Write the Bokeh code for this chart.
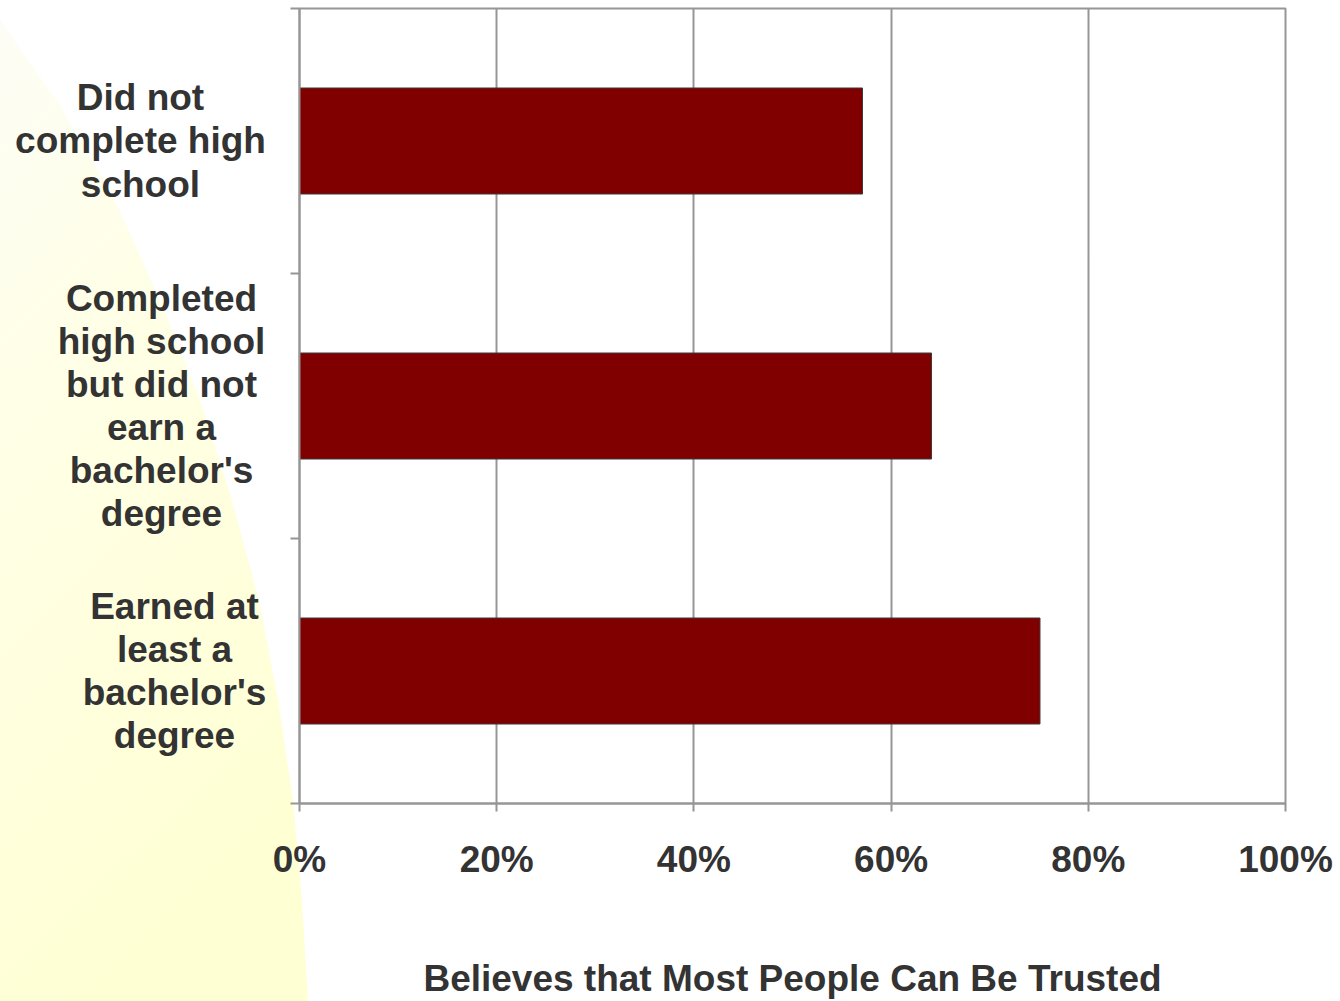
from bokeh.plotting import figure
from bokeh.layouts import row
from bokeh.models import Range1d, FixedTicker, NumeralTickFormatter
from bokeh.core.properties import value
from bokeh.embed import file_html
from bokeh.resources import INLINE

# ---- data ----
categories = [
    "Did not\ncomplete high\nschool",
    "Completed\nhigh school\nbut did not\nearn a\nbachelor's\ndegree",
    "Earned at\nleast a\nbachelor's\ndegree",
]
trust_share = [0.571, 0.641, 0.751]
x_ticks = [0.0, 0.2, 0.4, 0.6, 0.8, 1.0]
x_title = "Believes that Most People Can Be Trusted"

# ---- style ----
FONT = "Liberation Sans"
TEXT = "#333333"
GRID = "#969696"
W, H = 1340, 1001
LABEL_W = 270          # width of the category-label panel
PLOT_LEFT = 299        # page x of the plot frame's left edge
TOP, BOTTOM = 8, 198
# horizontal centre (px) of each centre-aligned category label block
label_centres = [140, 161, 174]

positions = [i + 0.5 for i in range(len(categories))]
y_range = Range1d(len(categories), 0)

svg_bg = (
    "<svg xmlns='http://www.w3.org/2000/svg' width='1340' height='1001'>"
    "<defs><linearGradient id='g' x1='0' y1='0' x2='0.3' y2='1'>"
    "<stop offset='0' stop-color='%23fdfdf6'/>"
    "<stop offset='0.35' stop-color='%23ffffe8'/>"
    "<stop offset='1' stop-color='%23ffffd4'/>"
    "</linearGradient></defs>"
    "<path d='M0,20 L60,105 L115,200 L160,300 L200,400 L232,500 L259,600 "
    "L278,700 L293,800 L302,900 L308,1001 L0,1001 Z' fill='url(%23g)'/></svg>"
)

# ---- category label panel ----
lab = figure(
    width=LABEL_W, height=H, x_range=Range1d(0, LABEL_W), y_range=y_range,
    output_backend="svg", toolbar_location=None, tools="",
    x_axis_location=None, y_axis_location=None,
    min_border_left=0, min_border_right=0, min_border_top=TOP, min_border_bottom=BOTTOM,
)
lab.border_fill_color = None
lab.background_fill_color = None
lab.outline_line_color = None
lab.grid.visible = False
lab.text(x=label_centres, y=positions, text=categories,
         text_align="center", text_baseline="middle",
         text_font=value(FONT), text_font_style="bold", text_font_size="37px",
         text_color=TEXT, text_line_height=1.05)

# ---- bar chart ----
p = figure(
    width=W - LABEL_W, height=H,
    x_range=Range1d(0, 1), y_range=y_range,
    output_backend="svg", toolbar_location=None, tools="",
    min_border_left=PLOT_LEFT - LABEL_W, min_border_right=55,
    min_border_top=TOP, min_border_bottom=BOTTOM,
)
p.border_fill_color = None
p.background_fill_color = "white"
p.outline_line_color = GRID
p.outline_line_width = 2

p.hbar(y=positions, right=trust_share, left=0, height=0.4,
       fill_color="#800000", line_color="#3a3a3a", line_width=1)

# x axis
xa = p.xaxis[0]
xa.ticker = FixedTicker(ticks=x_ticks)
xa.formatter = NumeralTickFormatter(format="0%")
xa.axis_line_color = GRID
xa.axis_line_width = 2
xa.major_tick_line_color = GRID
xa.major_tick_line_width = 2
xa.major_tick_out = 8
xa.major_tick_in = 0
xa.minor_tick_line_color = None
xa.major_label_standoff = 27
xa.major_label_text_font = FONT
xa.major_label_text_font_style = "bold"
xa.major_label_text_font_size = "37px"
xa.major_label_text_color = TEXT
xa.axis_label = x_title
xa.axis_label_text_font = FONT
xa.axis_label_text_font_style = "bold"
xa.axis_label_text_font_size = "37px"
xa.axis_label_text_color = TEXT
xa.axis_label_standoff = 75

# y axis: ticks at the category boundaries, labels in the left panel
ya = p.yaxis[0]
ya.ticker = FixedTicker(ticks=[], minor_ticks=list(range(len(categories) + 1)))
ya.axis_line_color = GRID
ya.axis_line_width = 2
ya.major_tick_line_color = None
ya.minor_tick_line_color = GRID
ya.minor_tick_line_width = 2
ya.minor_tick_out = 9
ya.minor_tick_in = 0

p.xgrid.ticker = FixedTicker(ticks=x_ticks)
p.xgrid.grid_line_color = GRID
p.xgrid.grid_line_width = 2
p.ygrid.grid_line_color = None

layout = row(lab, p, spacing=0, styles={
    "background-image": 'url("data:image/svg+xml;utf8,' + svg_bg + '")',
    "background-repeat": "no-repeat",
})

open("out.html", "w").write(file_html(layout, INLINE))
